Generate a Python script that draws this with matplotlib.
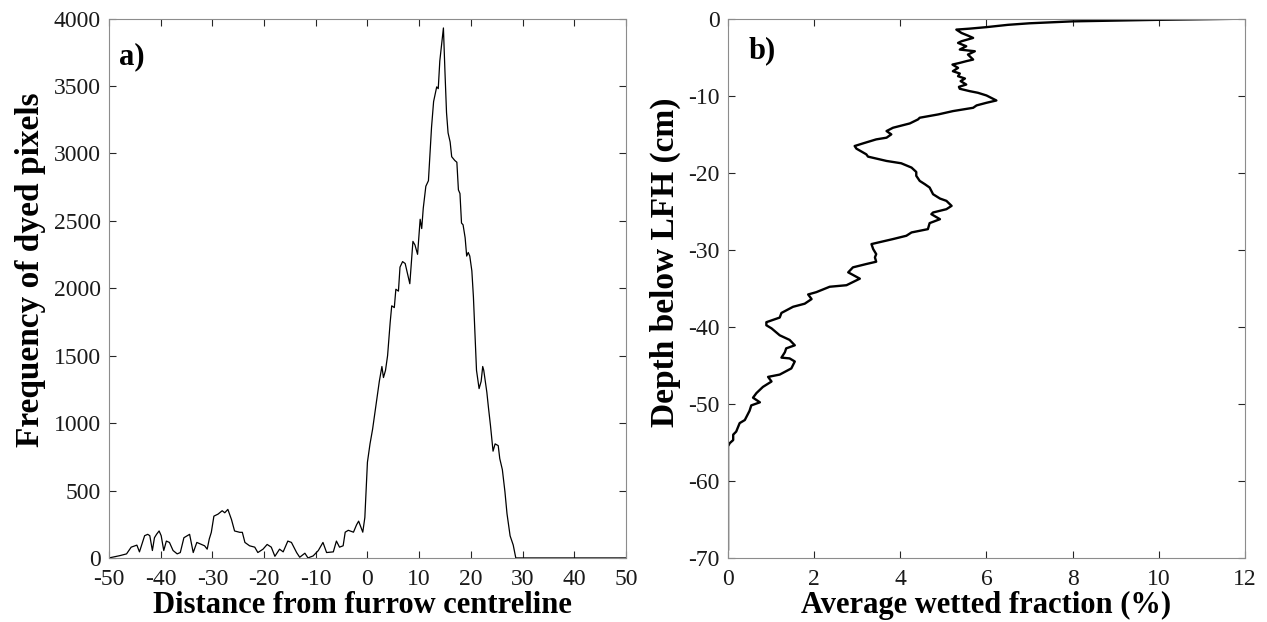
import matplotlib
matplotlib.use("Agg")
import matplotlib.pyplot as plt
import numpy as np

plt.rcParams['font.family'] = ['Liberation Serif', 'DejaVu Serif']
plt.rcParams['axes.unicode_minus'] = False

# (a) dyed pixel counts across the furrow
dist = [-50.0, -47.9, -46.6, -45.7, -45.0, -44.6, -44.1, -43.1, -42.5, -42.1,
        -41.6, -41.2, -40.8, -40.3, -39.9, -39.4, -38.9, -38.3, -37.6, -36.8,
        -36.2, -35.5, -34.4, -33.7, -33.0, -32.1, -31.5, -31.0, -30.6, -30.2,
        -29.7, -28.9, -28.1, -27.6, -27.0, -26.3, -25.7, -24.7, -24.2, -23.7,
        -22.8, -21.8, -21.2, -20.2, -19.4, -18.6, -17.9, -17.0, -16.3, -15.4,
        -14.7, -13.7, -13.1, -12.1, -11.5, -10.5, -9.5, -8.6, -7.9, -6.6,
        -6.0, -5.4, -4.7, -4.3, -3.7, -2.7, -2.1, -1.7, -0.9, -0.5,
        0.0, 0.5, 1.0, 1.5, 1.9, 2.3, 2.8, 3.1, 3.5, 3.9,
        4.4, 4.7, 5.2, 5.5, 6.0, 6.3, 6.8, 7.3, 7.7, 8.2,
        8.8, 9.2, 9.7, 10.2, 10.5, 10.8, 11.3, 11.8, 12.1, 12.4,
        12.8, 13.1, 13.4, 13.7, 14.0, 14.4, 14.7, 15.0, 15.3, 15.6,
        16.0, 16.3, 16.6, 16.9, 17.3, 17.6, 17.9, 18.2, 18.5, 18.9,
        19.2, 19.5, 19.8, 20.2, 20.5, 20.8, 21.1, 21.6, 22.0, 22.3,
        22.5, 23.1, 23.4, 23.8, 24.3, 24.7, 25.3, 25.6, 26.1, 26.6,
        27.0, 27.6, 28.2, 28.7, 30.0, 40.0, 50.0]
freq = [0, 17, 30, 80, 90, 95, 45, 165, 175, 165,
        55, 150, 175, 200, 165, 55, 125, 115, 55, 30,
        40, 150, 175, 40, 115, 100, 90, 65, 140, 190,
        310, 325, 350, 335, 360, 285, 200, 190, 190, 115,
        90, 80, 40, 65, 100, 80, 12, 65, 45, 125,
        115, 40, 5, 35, 0, 15, 55, 115, 40, 45,
        125, 80, 90, 191, 205, 191, 246, 273, 191, 300,
        710, 846, 955, 1092, 1201, 1310, 1420, 1338, 1392, 1501,
        1747, 1870, 1857, 1993, 1979, 2157, 2198, 2184, 2116, 2034,
        2348, 2321, 2252, 2512, 2443, 2594, 2757, 2798, 3003, 3194,
        3385, 3440, 3494, 3481, 3686, 3822, 3931, 3604, 3303, 3153,
        3085, 2976, 2962, 2948, 2935, 2730, 2703, 2484, 2471, 2375,
        2239, 2266, 2239, 2129, 1938, 1665, 1392, 1256, 1310, 1420,
        1392, 1229, 1119, 983, 792, 846, 833, 737, 655, 491,
        328, 164, 96, 0, 0, 0, 0]

# (b) wetted fraction profile with depth
wetted = [12.0, 10.0, 8.0, 7.0, 6.5, 6.0, 5.6, 5.3, 5.42, 5.57,
          5.69, 5.42, 5.34, 5.53, 5.38, 5.73, 5.57, 5.69, 5.53, 5.38,
          5.21, 5.34, 5.22, 5.38, 5.34, 5.50, 5.40, 5.53, 5.36, 5.38,
          5.61, 5.80, 6.0, 6.23, 6.0, 5.77, 5.69, 5.22, 4.88, 4.45,
          4.41, 4.22, 3.83, 3.68, 3.79, 3.68, 3.44, 3.14, 2.94, 2.98,
          3.21, 3.25, 3.68, 4.02, 4.26, 4.37, 4.37, 4.45, 4.57, 4.68,
          4.76, 4.92, 5.07, 5.19, 5.07, 4.76, 4.72, 4.92, 4.68, 4.64,
          4.26, 4.14, 3.83, 3.56, 3.33, 3.37, 3.44, 3.41, 3.44, 3.21,
          2.90, 2.79, 3.06, 2.75, 2.36, 2.05, 1.86, 1.94, 1.78, 1.51,
          1.24, 1.20, 0.89, 0.89, 1.01, 1.20, 1.43, 1.55, 1.35, 1.32,
          1.24, 1.43, 1.55, 1.47, 1.20, 0.93, 1.01, 0.81, 0.66, 0.58,
          0.74, 0.54, 0.50, 0.39, 0.27, 0.19, 0.12, 0.12, 0.04, 0.0,
          0.0]
depth = [0.0, -0.15, -0.35, -0.6, -0.8, -1.1, -1.3, -1.42, -1.86, -2.2,
         -2.5, -2.93, -3.15, -3.58, -4.01, -4.23, -4.66, -5.31, -5.52, -5.74,
         -5.96, -6.39, -6.82, -7.12, -7.47, -7.77, -8.11, -8.55, -8.85, -9.1,
         -9.41, -9.62, -9.97, -10.62, -10.92, -11.26, -11.57, -12.0, -12.43, -12.86,
         -13.08, -13.6, -14.16, -14.59, -15.02, -15.45, -15.67, -16.18, -16.53, -16.87,
         -17.61, -17.91, -18.47, -18.77, -19.33, -19.9, -20.4, -21.06, -21.49, -21.92,
         -22.79, -23.35, -23.65, -24.3, -24.73, -25.16, -25.38, -26.03, -26.54, -27.32,
         -27.75, -28.18, -28.61, -28.96, -29.26, -29.91, -30.56, -30.99, -31.55, -31.85,
         -32.28, -32.93, -33.75, -34.6, -34.8, -35.5, -35.8, -36.4, -37.0, -37.4,
         -38.2, -38.8, -39.4, -39.8, -40.2, -41.1, -41.7, -42.4, -42.8, -43.3,
         -44.0, -44.1, -44.5, -45.4, -46.2, -46.5, -47.1, -47.8, -48.6, -49.2,
         -49.8, -50.2, -50.9, -52.1, -52.5, -53.6, -54.0, -54.7, -55.1, -55.5,
         -68.9]

fig = plt.figure(figsize=(12.67, 6.22), dpi=100)
ax1 = fig.add_axes([0.086, 0.103, 0.408, 0.867])
ax2 = fig.add_axes([0.5746, 0.103, 0.408, 0.867])


def style_axes(ax):
    for s in ax.spines.values():
        s.set_color('0.55')
        s.set_linewidth(0.8)
    ax.tick_params(direction='in', top=True, right=True, length=5,
                   width=0.8, color='0.15', labelsize=17, labelcolor='0.1')
    ax.tick_params(axis='x', pad=8)
    ax.tick_params(axis='y', pad=6)


ax1.plot(dist, freq, color='black', lw=0.9)
ax1.set_xlim(-50, 50)
ax1.set_ylim(0, 4000)
ax1.set_xticks(np.arange(-50, 51, 10))
ax1.set_yticks(np.arange(0, 4001, 500))
ax1.set_xlabel('Distance from furrow centreline', fontsize=22,
               fontweight='bold')
ax1.set_ylabel('Frequency of dyed pixels', fontsize=24, fontweight='bold')
ax1.xaxis.set_label_coords(0.49, -0.062)
ax1.yaxis.set_label_coords(-0.122, 0.535)
ax1.text(0.02, 0.93, 'a)', transform=ax1.transAxes, fontsize=22,
         fontweight='bold', va='center')
style_axes(ax1)

ax2.plot(wetted, depth, color='black', lw=1.7)
ax2.set_xlim(0, 12)
ax2.set_ylim(-70, 0)
ax2.set_xticks(np.arange(0, 13, 2))
ax2.set_yticks(np.arange(-70, 1, 10))
ax2.set_xlabel('Average wetted fraction (%)', fontsize=22,
               fontweight='bold')
ax2.set_ylabel('Depth below LFH (cm)', fontsize=24, fontweight='bold')
ax2.xaxis.set_label_coords(0.5, -0.062)
ax2.yaxis.set_label_coords(-0.091, 0.548)
ax2.text(0.04, 0.94, 'b)', transform=ax2.transAxes, fontsize=22,
         fontweight='bold', va='center')
style_axes(ax2)

fig.savefig('out.png', dpi=100)
